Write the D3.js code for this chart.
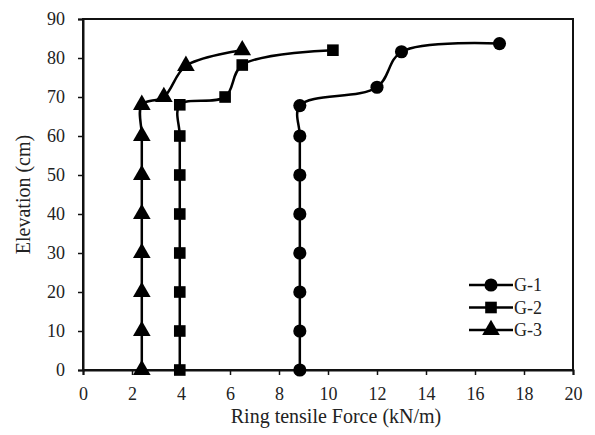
<!DOCTYPE html>
<html>
<head>
<meta charset="utf-8">
<script src="https://cdn.jsdelivr.net/npm/d3@7"></script>
<style>
body { margin: 0; background: #fff; }
svg text { font-family: 'Liberation Serif', 'DejaVu Serif', 'Times New Roman', Times, serif !important; fill: #222; }
</style>
</head>
<body>
<div id="chart"></div>
<script>
// data
series_names = ['G-1', 'G-2', 'G-3'];
g1_elev = [0, 10, 20, 30, 40, 50, 60, 67.8, 72.5, 81.6, 83.7];
g1_force = [8.85, 8.85, 8.85, 8.85, 8.85, 8.85, 8.85, 8.85, 12.0, 13.0, 17.0];
g2_elev = [0, 10, 20, 30, 40, 50, 60, 68, 70, 78.2, 82];
g2_force = [3.95, 3.95, 3.95, 3.95, 3.95, 3.95, 3.95, 3.95, 5.8, 6.5, 10.2];
g3_elev = [0, 10, 20, 30, 40, 50, 60, 68, 70, 78, 82];
g3_force = [2.4, 2.4, 2.4, 2.4, 2.4, 2.4, 2.4, 2.4, 3.3, 4.2, 6.5];
x_ticks = [0, 2, 4, 6, 8, 10, 12, 14, 16, 18, 20];
y_ticks = [0, 10, 20, 30, 40, 50, 60, 70, 80, 90];

var series = [
	{name: series_names[0], force: g1_force, elev: g1_elev, symbol: d3.symbolCircle, size: 135},
	{name: series_names[1], force: g2_force, elev: g2_elev, symbol: d3.symbolSquare, size: 135},
	{name: series_names[2], force: g3_force, elev: g3_elev, symbol: d3.symbolTriangle, size: 135}
];

// chart settings
var width = 595, height = 435;
var margin = {left: 83, right: 22, top: 19, bottom: 65};

var x_scale = d3.scaleLinear()
	.domain([0, 20])
	.range([margin.left, width - margin.right]);

var y_scale = d3.scaleLinear()
	.domain([0, 90])
	.range([height - margin.bottom, margin.top]);

var svg = d3.select('#chart')
	.append('svg')
	.attr('width', width)
	.attr('height', height);

// frame
svg.append('rect')
	.attr('x', x_scale(0))
	.attr('y', y_scale(90))
	.attr('width', x_scale(20) - x_scale(0))
	.attr('height', y_scale(0) - y_scale(90))
	.attr('fill', 'none')
	.attr('stroke', '#111')
	.attr('stroke-width', 2);

// axes
var x_axis = svg.append('g')
	.attr('transform', 'translate(0,' + y_scale(0) + ')')
	.call(d3.axisBottom(x_scale).tickValues(x_ticks).tickSize(5).tickPadding(12).tickFormat(d3.format('d')));

var y_axis = svg.append('g')
	.attr('transform', 'translate(' + x_scale(0) + ',0)')
	.call(d3.axisLeft(y_scale).tickValues(y_ticks).tickSize(5).tickPadding(13).tickFormat(d3.format('d')));

[x_axis, y_axis].forEach(function(ax) {
	ax.attr('font-family', null);
	ax.select('.domain').attr('stroke', '#111').attr('stroke-width', 2);
	ax.selectAll('.tick line').attr('stroke', '#111').attr('stroke-width', 1.5);
	ax.selectAll('.tick text').attr('font-size', 18).attr('fill', '#222');
});

// axis titles
svg.append('text')
	.attr('x', (x_scale(0) + x_scale(20)) / 2 + 8)
	.attr('y', 423)
	.attr('text-anchor', 'middle')
	.attr('font-size', 20)
	.text('Ring tensile Force (kN/m)');

svg.append('text')
	.attr('transform', 'translate(30,' + (y_scale(45)) + ') rotate(-90)')
	.attr('text-anchor', 'middle')
	.attr('font-size', 20)
	.text('Elevation (cm)');

// lines
var line = d3.line()
	.x((d) => x_scale(d[0]))
	.y((d) => y_scale(d[1]))
	.curve(d3.curveCatmullRom.alpha(0.5));

series.forEach(function(s) {
	var pts = s.force.map((f, i) => [f, s.elev[i]]);
	svg.append('path')
		.datum(pts)
		.attr('d', line)
		.attr('fill', 'none')
		.attr('stroke', '#000')
		.attr('stroke-width', 2.5);
	svg.append('g')
		.selectAll('path')
		.data(pts)
		.enter()
		.append('path')
		.attr('transform', (d) => 'translate(' + x_scale(d[0]) + ',' + y_scale(d[1]) + ')')
		.attr('d', d3.symbol().type(s.symbol).size(s.size))
		.attr('fill', '#000');
});

// legend
var legend = svg.append('g').attr('transform', 'translate(469,285)');
series.forEach(function(s, i) {
	var row = legend.append('g').attr('transform', 'translate(0,' + (i * 22.5) + ')');
	row.append('line')
		.attr('x1', 0).attr('x2', 44)
		.attr('stroke', '#000').attr('stroke-width', 2.5);
	row.append('path')
		.attr('transform', 'translate(22,0)')
		.attr('d', d3.symbol().type(s.symbol).size(s.size))
		.attr('fill', '#000');
	row.append('text')
		.attr('x', 45)
		.attr('y', 6)
		.attr('font-size', 18)
		.text(s.name);
});
</script>
</body>
</html>
